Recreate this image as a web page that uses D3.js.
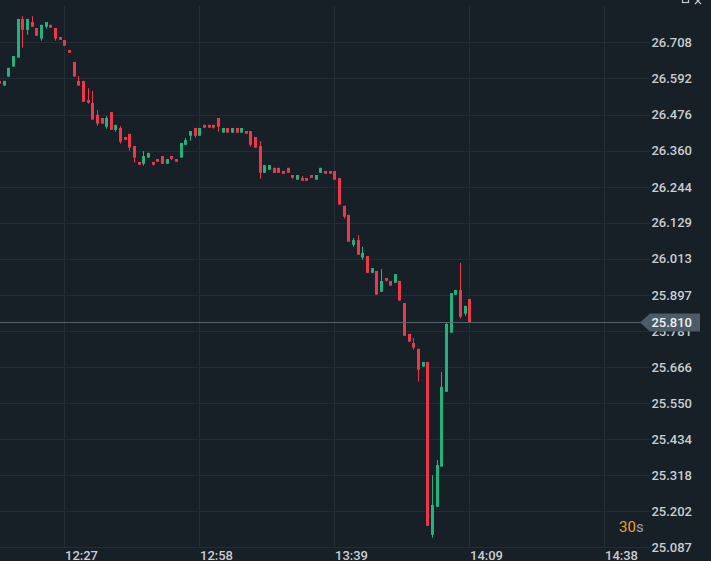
<!DOCTYPE html>
<html>
<head>
<meta charset="utf-8">
<script src="https://cdn.jsdelivr.net/npm/d3@7"></script>
<style>
  html, body { margin: 0; padding: 0; background: #172027; }
  svg { display: block; }
</style>
</head>
<body>
<svg width="711" height="561"></svg>
<script>
// candle data, one entry per bar
var opens = [26.584,26.569,26.598,26.630,26.659,26.783,26.748,26.773,26.754,26.720,
  26.758,26.764,26.754,26.725,26.715,26.683,26.645,26.584,26.584,26.523,
  26.513,26.475,26.465,26.437,26.484,26.427,26.433,26.404,26.414,26.375,
  26.324,26.318,26.338,26.324,26.333,26.343,26.318,26.343,26.333,26.338,
  26.379,26.408,26.433,26.408,26.443,26.443,26.443,26.465,26.418,26.433,
  26.418,26.433,26.418,26.423,26.423,26.404,26.375,26.289,26.299,26.305,
  26.305,26.295,26.305,26.282,26.267,26.272,26.272,26.282,26.267,26.289,
  26.295,26.295,26.295,26.272,26.183,26.154,26.058,26.073,26.017,26.022,
  25.968,25.974,25.907,25.951,25.942,25.936,25.942,25.871,25.772,25.743,
  25.724,25.667,25.682,25.127,25.217,25.346,25.586,25.776,25.898,25.913,
  25.837,25.884];
var closes = [26.575,26.584,26.626,26.664,26.783,26.748,26.783,26.758,26.729,26.764,
  26.773,26.755,26.720,26.716,26.697,26.675,26.598,26.569,26.517,26.514,
  26.460,26.447,26.447,26.465,26.427,26.443,26.389,26.395,26.370,26.338,
  26.315,26.343,26.353,26.315,26.325,26.318,26.333,26.334,26.325,26.385,
  26.394,26.423,26.408,26.433,26.434,26.434,26.434,26.437,26.433,26.418,
  26.433,26.418,26.433,26.415,26.379,26.370,26.289,26.314,26.314,26.289,
  26.289,26.286,26.289,26.273,26.282,26.264,26.264,26.273,26.282,26.305,
  26.286,26.286,26.267,26.187,26.148,26.068,26.073,26.026,26.032,25.968,
  25.983,25.898,25.942,25.943,25.927,25.964,25.879,25.766,25.747,25.728,
  25.657,25.682,25.156,25.223,25.351,25.602,25.804,25.903,25.913,25.827,
  25.862,25.810];
var highs = [26.584,26.584,26.626,26.664,26.783,26.792,26.783,26.792,26.754,26.764,
  26.773,26.764,26.754,26.725,26.715,26.683,26.645,26.600,26.584,26.561,
  26.552,26.491,26.465,26.471,26.484,26.443,26.439,26.404,26.414,26.375,
  26.324,26.359,26.353,26.324,26.333,26.343,26.333,26.343,26.333,26.385,
  26.401,26.423,26.433,26.433,26.443,26.443,26.443,26.465,26.433,26.433,
  26.433,26.433,26.433,26.423,26.423,26.404,26.391,26.314,26.314,26.305,
  26.305,26.295,26.305,26.282,26.282,26.279,26.272,26.282,26.282,26.305,
  26.295,26.295,26.295,26.272,26.183,26.154,26.080,26.089,26.051,26.022,
  25.983,25.974,25.980,25.951,25.942,25.964,25.942,25.871,25.772,25.759,
  25.724,25.682,25.682,25.319,25.367,25.650,25.807,25.903,25.913,26.000,
  25.862,25.884];
var lows = [26.575,26.569,26.598,26.630,26.659,26.691,26.732,26.758,26.729,26.713,
  26.752,26.755,26.713,26.716,26.697,26.675,26.598,26.569,26.517,26.511,
  26.460,26.440,26.447,26.431,26.427,26.421,26.383,26.395,26.360,26.322,
  26.315,26.312,26.338,26.312,26.325,26.318,26.318,26.330,26.325,26.338,
  26.379,26.392,26.402,26.408,26.434,26.434,26.431,26.421,26.418,26.418,
  26.418,26.418,26.418,26.415,26.373,26.370,26.270,26.289,26.299,26.289,
  26.289,26.286,26.289,26.270,26.267,26.264,26.264,26.273,26.267,26.289,
  26.286,26.286,26.267,26.187,26.142,26.068,26.052,26.026,26.010,25.968,
  25.968,25.898,25.907,25.940,25.927,25.936,25.879,25.766,25.747,25.721,
  25.619,25.667,25.156,25.118,25.217,25.346,25.586,25.776,25.898,25.821,
  25.830,25.810];

var priceTicks = [26.708,26.592,26.476,26.360,26.244,26.129,26.013,25.897,
  25.781,25.666,25.550,25.434,25.318,25.202,25.087];
var timeTickIdx = [14, 43, 72, 101, 130];
var timeTickLabels = ["12:27", "12:58", "13:39", "14:09", "14:38"];
var lastPrice = 25.810;

var svg = d3.select("svg"),
    width = +svg.attr("width"),
    height = +svg.attr("height");

var up = "#22b27c", down = "#f0364a";

var x = d3.scaleLinear().domain([0, 101]).range([-0.9, 469.3]);
var y = d3.scaleLinear().domain([25.087, 26.708]).range([547.3, 42.3]);

svg.append("rect").attr("width", width).attr("height", height).attr("fill", "#172027");

// grid
var grid = svg.append("g").attr("stroke", "#232d36").attr("stroke-width", 1);
grid.selectAll(".hg").data(priceTicks).enter().append("line")
  .attr("x1", 0).attr("x2", 650)
  .attr("y1", function(d) { return Math.round(y(d)) + 0.5; })
  .attr("y2", function(d) { return Math.round(y(d)) + 0.5; });
grid.selectAll(".vg").data(timeTickIdx).enter().append("line")
  .attr("y1", 6).attr("y2", 547)
  .attr("x1", function(d) { return Math.round(x(d)) + 0.5; })
  .attr("x2", function(d) { return Math.round(x(d)) + 0.5; });

// candles
var candles = d3.range(opens.length).map(function(i) {
  return {i: i, o: opens[i], h: highs[i], l: lows[i], c: closes[i]};
});

var cg = svg.append("g").selectAll("g").data(candles).enter().append("g");
cg.append("line")
  .attr("x1", function(d) { return Math.round(x(d.i)) + 0.5; })
  .attr("x2", function(d) { return Math.round(x(d.i)) + 0.5; })
  .attr("y1", function(d) { return y(d.h); })
  .attr("y2", function(d) { return y(d.l); })
  .attr("stroke", function(d) { return d.c >= d.o ? up : down; })
  .attr("stroke-width", 1);
cg.append("rect")
  .attr("x", function(d) { return Math.round(x(d.i)) - 1; })
  .attr("width", 3)
  .attr("y", function(d) {
    var t = y(Math.max(d.o, d.c)), b = y(Math.min(d.o, d.c));
    return b - t < 2.7 ? (t + b) / 2 - 1.35 : t;
  })
  .attr("height", function(d) { return Math.max(2.7, Math.abs(y(d.o) - y(d.c))); })
  .attr("fill", function(d) { return d.c >= d.o ? up : down; });

// price axis
var labelFont = "Roboto, 'Noto Sans', sans-serif";
svg.append("g").selectAll("text").data(priceTicks).enter().append("text")
  .attr("x", 692).attr("y", function(d) { return y(d); })
  .attr("dy", "0.36em")
  .attr("text-anchor", "end")
  .attr("font-family", labelFont).attr("font-size", 13).attr("font-weight", 500)
  .attr("fill", "#c9cdd1")
  .text(function(d) { return d3.format(".3f")(d); });

// time axis
svg.append("g").selectAll("text").data(timeTickIdx).enter().append("text")
  .attr("x", function(d) { return Math.round(x(d)) + 1; })
  .attr("y", 560)
  .attr("font-family", labelFont).attr("font-size", 13).attr("font-weight", 500)
  .attr("fill", "#c9cdd1")
  .text(function(d, i) { return timeTickLabels[i]; });

// last price line and tag
var ly = Math.round(y(lastPrice)) + 0.5;
svg.append("line").attr("x1", 0).attr("x2", 641).attr("y1", ly).attr("y2", ly)
  .attr("stroke", "#56646f").attr("stroke-width", 1);
svg.append("path")
  .attr("d", "M640," + ly + "L650," + (ly - 9) + "L700," + (ly - 9) + "L700," + (ly + 9) + "L650," + (ly + 9) + "Z")
  .attr("fill", "#4c5b67");
svg.append("text").attr("x", 692).attr("y", ly).attr("dy", "0.36em")
  .attr("text-anchor", "end")
  .attr("font-family", labelFont).attr("font-size", 13).attr("font-weight", 500)
  .attr("fill", "#eef1f3")
  .text(d3.format(".3f")(lastPrice));

// timeframe label
var tf = svg.append("text").attr("x", 619).attr("y", 532)
  .attr("font-family", labelFont).attr("font-size", 15);
tf.append("tspan").attr("fill", "#f0a020").text("30");
tf.append("tspan").attr("fill", "#9aa3ab").text("s");

// window icons (cut off at the top edge)
svg.append("rect").attr("x", 682.5).attr("y", -4.5).attr("width", 6).attr("height", 7)
  .attr("fill", "none").attr("stroke", "#c3c7cb").attr("stroke-width", 1.2);
svg.append("path").attr("d", "M695,-2L701,4M701,-2L695,4")
  .attr("stroke", "#c3c7cb").attr("stroke-width", 1.2);
</script>
</body>
</html>
